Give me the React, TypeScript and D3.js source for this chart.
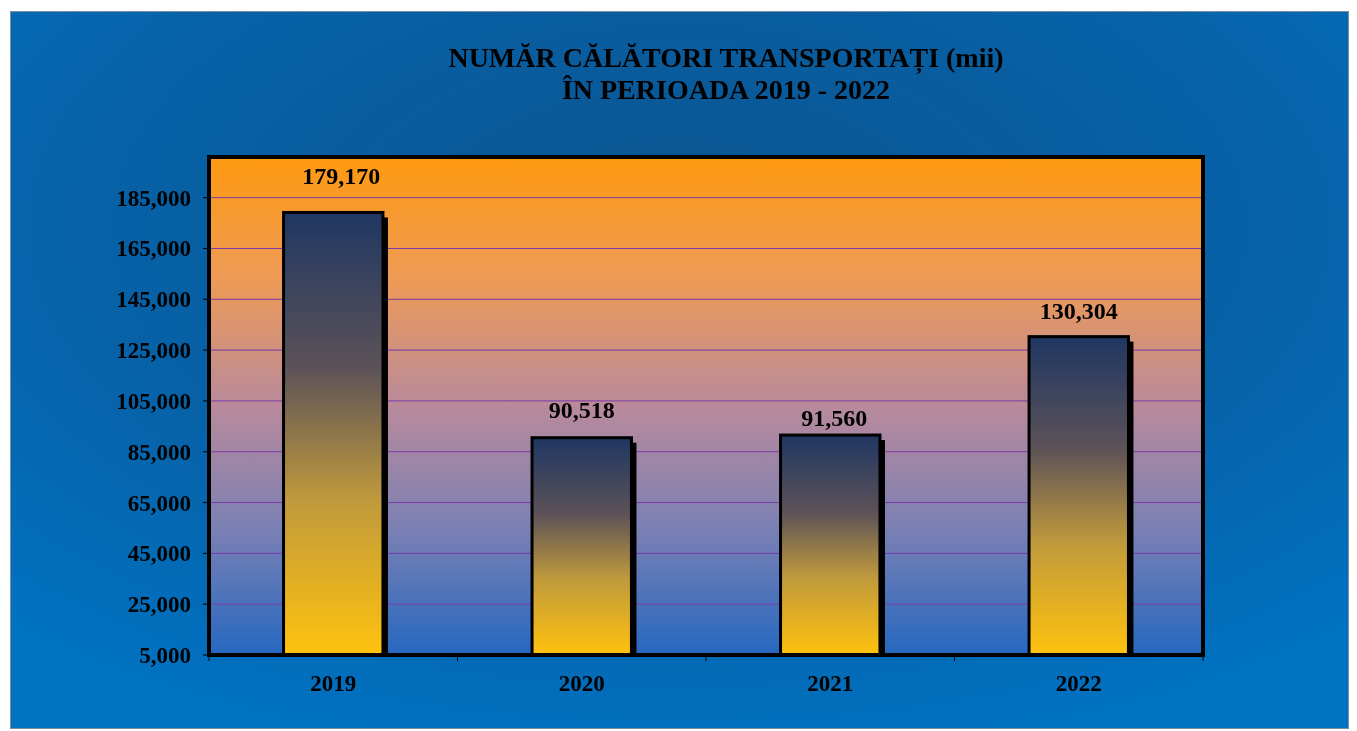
import React from 'react';
import * as d3 from 'd3';

// chart data
const years = ['2019', '2020', '2021', '2022'];
const passengers = [179170, 90518, 91560, 130304];
const yTicks = [5000, 25000, 45000, 65000, 85000, 105000, 125000, 145000, 165000, 185000];
const titleLines = ['NUMĂR CĂLĂTORI TRANSPORTAȚI (mii)', 'ÎN PERIOADA 2019 - 2022'];

// value labels were hand-placed in the original, so nudge them a bit
const labelLift = [28, 20, 9, 18];
const labelShift = [8, 0, 4, 0];

const W = 1357;
const H = 731;
const plot = { left: 209, right: 1203, top: 157, bottom: 655 };
const FONT = '"Liberation Serif", "Times New Roman", serif';

const fmt = d3.format(',');

export default function App() {
  const x = d3.scaleBand<string>()
    .domain(years)
    .range([plot.left, plot.right])
    .paddingInner(0.6)
    .paddingOuter(0.3);

  const y = d3.scaleLinear()
    .domain([5000, 201000])
    .range([plot.bottom, plot.top]);

  const step = x.step();
  const boundaries = d3.range(years.length + 1).map(i => plot.left + i * step);

  return (
    <svg width={W} height={H} style={{ position: 'fixed', left: 0, top: 0 }} fontFamily={FONT}>
      <defs>
        <radialGradient id="outerBg" cx="0.5" cy="0.3" r="0.75">
          <stop offset="0" stopColor="#0b548f" />
          <stop offset="0.6" stopColor="#0762a8" />
          <stop offset="1" stopColor="#0072c2" />
        </radialGradient>
        <linearGradient id="plotBg" x1="0" y1="0" x2="0" y2="1">
          <stop offset="0" stopColor="#ff9a10" />
          <stop offset="0.25" stopColor="#ed9a58" />
          <stop offset="0.5" stopColor="#b98a9c" />
          <stop offset="0.75" stopColor="#7a80b4" />
          <stop offset="1" stopColor="#2668c0" />
        </linearGradient>
        <linearGradient id="barFill" x1="0" y1="0" x2="0" y2="1">
          <stop offset="0" stopColor="#1f3762" />
          <stop offset="0.35" stopColor="#5c5258" />
          <stop offset="0.65" stopColor="#c09a3c" />
          <stop offset="1" stopColor="#ffc20e" />
        </linearGradient>
      </defs>

      {/* outer chart area */}
      <rect x={10.5} y={11.5} width={1338} height={717} fill="url(#outerBg)" stroke="#7f8fa0" strokeWidth={1} />

      {/* title */}
      {titleLines.map((t, i) => (
        <text key={t} x={726} y={67 + i * 32} textAnchor="middle" fontSize={28} fontWeight="bold" fill="#000">
          {t}
        </text>
      ))}

      {/* plot area */}
      <rect x={plot.left} y={plot.top} width={plot.right - plot.left} height={plot.bottom - plot.top} fill="url(#plotBg)" />

      {/* gridlines */}
      {yTicks.slice(1).map(t => (
        <line key={t} x1={plot.left} x2={plot.right} y1={y(t)} y2={y(t)} stroke="#7a3aa8" strokeWidth={1} />
      ))}

      {/* bars with shadow */}
      {years.map((yr, i) => {
        const bx = x(yr)!;
        const by = y(passengers[i]);
        const bh = plot.bottom - by;
        return (
          <g key={yr}>
            <rect x={bx + 5} y={by + 5} width={x.bandwidth()} height={bh - 5} fill="#000" />
            <rect x={bx} y={by} width={x.bandwidth()} height={bh} fill="url(#barFill)" stroke="#000" strokeWidth={3} />
            <text x={bx + x.bandwidth() / 2 + labelShift[i]} y={by - labelLift[i]} textAnchor="middle" fontSize={24} fontWeight="bold" fill="#000">
              {fmt(passengers[i])}
            </text>
          </g>
        );
      })}

      {/* plot border */}
      <rect x={plot.left} y={plot.top} width={plot.right - plot.left} height={plot.bottom - plot.top} fill="none" stroke="#000" strokeWidth={4} />

      {/* y axis ticks and labels */}
      {yTicks.map(t => (
        <g key={t}>
          <line x1={plot.left - 6} x2={plot.left} y1={y(t)} y2={y(t)} stroke="#000" strokeWidth={1} />
          <text x={plot.left - 18} y={y(t) + 8} textAnchor="end" fontSize={23} fontWeight="bold" fill="#000">
            {fmt(t)}
          </text>
        </g>
      ))}

      {/* x axis ticks and labels */}
      {boundaries.map(b => (
        <line key={b} x1={b} x2={b} y1={plot.bottom} y2={plot.bottom + 6} stroke="#000" strokeWidth={1} />
      ))}
      {years.map(yr => (
        <text key={yr} x={x(yr)! + x.bandwidth() / 2} y={691} textAnchor="middle" fontSize={23} fontWeight="bold" fill="#000">
          {yr}
        </text>
      ))}
    </svg>
  );
}
